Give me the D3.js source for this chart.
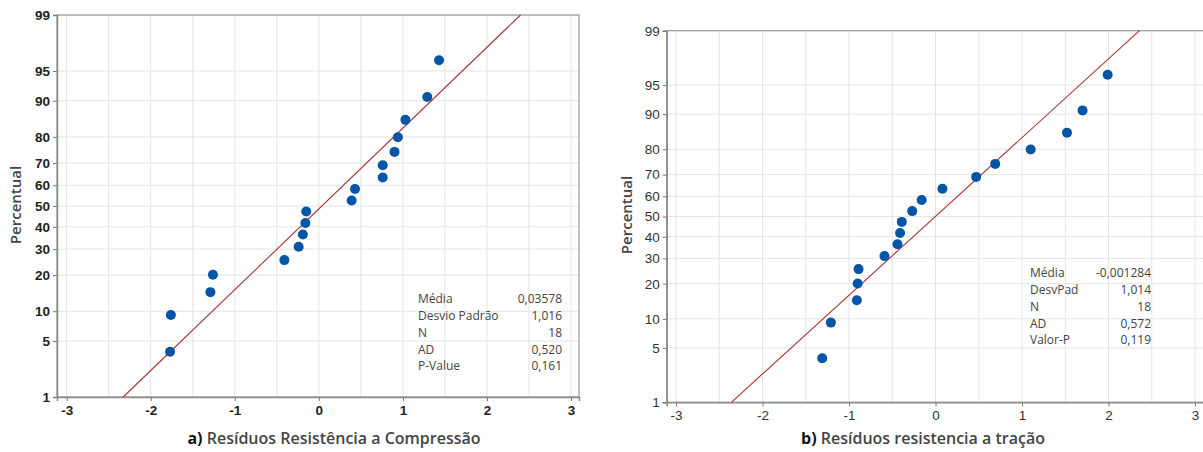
<!DOCTYPE html>
<html>
<head>
<meta charset="utf-8">
<script src="https://cdn.jsdelivr.net/npm/d3@7"></script>
<style>
  body { margin: 0; background: #fff; }
  svg { display: block; font-family: "Open Sans", sans-serif; }
</style>
</head>
<body>
<div id="c"></div>
<script>
"use strict";

// percent plotting positions (same for both panels)
const percentA = [3.8, 9.2, 14.7, 20.1, 25.5, 31.0, 36.4, 41.8, 47.3, 52.7, 58.2, 63.6, 69.0, 74.5, 79.9, 85.3, 90.8, 96.2]
const percentB = [3.8, 9.2, 14.7, 20.1, 25.5, 31.0, 36.4, 41.8, 47.3, 52.7, 58.2, 63.6, 69.0, 74.5, 79.9, 85.3, 90.8, 96.2]

const residA = [-1.77, -1.76, -1.29, -1.26, -0.41, -0.24, -0.19, -0.16, -0.15, 0.39, 0.43, 0.76, 0.76, 0.90, 0.94, 1.03, 1.29, 1.43]
const residB = [-1.31, -1.21, -0.91, -0.90, -0.89, -0.59, -0.44, -0.41, -0.39, -0.27, -0.16, 0.08, 0.47, 0.69, 1.10, 1.52, 1.70, 1.99]

const meanA = 0.03578, sdA = 1.016
const meanB = -0.001284, sdB = 1.014

const yTicks = [1, 5, 10, 20, 30, 40, 50, 60, 70, 80, 90, 95, 99]
const xTicks = [-3, -2, -1, 0, 1, 2, 3]
const xGrid = [-3, -2.5, -2, -1.5, -1, -0.5, 0, 0.5, 1, 1.5, 2, 2.5, 3]

const statsLabelsA = ["Média", "Desvio Padrão", "N", "AD", "P-Value"]
const statsValuesA = ["0,03578", "1,016", "18", "0,520", "0,161"]
const statsLabelsB = ["Média", "DesvPad", "N", "AD", "Valor-P"]
const statsValuesB = ["-0,001284", "1,014", "18", "0,572", "0,119"]

// inverse normal cdf (Acklam)
function probit(p) {
    const a = [-39.69683028665376, 220.9460984245205, -275.9285104469687, 138.3577518672690, -30.66479806614716, 2.506628277459239]
    const b = [-54.47609879822406, 161.5858368580409, -155.6989798598866, 66.80131188771972, -13.28068155288572]
    const c = [-0.007784894002430293, -0.3223964580411365, -2.400758277161838, -2.549732539343734, 4.374664141464968, 2.938163982698783]
    const d = [0.007784695709041462, 0.3224671290700398, 2.445134137142996, 3.754408661907416]
    const pl = 0.02425
    let q, r
    if (p < pl) {
        q = Math.sqrt(-2 * Math.log(p))
        return (((((c[0]*q+c[1])*q+c[2])*q+c[3])*q+c[4])*q+c[5]) / ((((d[0]*q+d[1])*q+d[2])*q+d[3])*q+1)
    }
    if (p > 1 - pl) {
        q = Math.sqrt(-2 * Math.log(1 - p))
        return -(((((c[0]*q+c[1])*q+c[2])*q+c[3])*q+c[4])*q+c[5]) / ((((d[0]*q+d[1])*q+d[2])*q+d[3])*q+1)
    }
    q = p - 0.5
    r = q * q
    return (((((a[0]*r+a[1])*r+a[2])*r+a[3])*r+a[4])*r+a[5])*q / (((((b[0]*r+b[1])*r+b[2])*r+b[3])*r+b[4])*r+1)
}

const svg = d3.select('#c').append('svg')
    .attr('width', 1203).attr('height', 452)

function drawPanel(cfg) {
    const g = svg.append('g')
    const xScale = d3.scaleLinear().domain(cfg.xDomain).range([cfg.left, cfg.right])
    const zScale = d3.scaleLinear().domain([probit(0.01), probit(0.99)]).range([cfg.bottom, cfg.top])
    const yPos = p => zScale(probit(p / 100))

    // grid
    g.append('g').selectAll('line').data(xGrid).enter().append('line')
        .attr('x1', d => xScale(d)).attr('x2', d => xScale(d))
        .attr('y1', cfg.top).attr('y2', cfg.bottom)
        .attr('stroke', '#e4e4e4').attr('stroke-width', 1)
    g.append('g').selectAll('line').data(yTicks).enter().append('line')
        .attr('x1', cfg.left).attr('x2', cfg.right)
        .attr('y1', d => yPos(d)).attr('y2', d => yPos(d))
        .attr('stroke', '#e4e4e4').attr('stroke-width', 1)

    // frame
    g.append('rect')
        .attr('x', cfg.left).attr('y', cfg.top)
        .attr('width', cfg.right - cfg.left).attr('height', cfg.bottom - cfg.top)
        .attr('fill', 'none').attr('stroke', '#9a9a9a').attr('stroke-width', 1.2)

    // axes
    const yAxis = g.append('g')
        .attr('transform', 'translate(' + cfg.left + ',0)')
        .call(d3.axisLeft(zScale)
            .tickValues(yTicks.map(p => probit(p / 100)))
            .tickFormat((d, i) => yTicks[i])
            .tickSize(4).tickPadding(3))
    const xAxis = g.append('g')
        .attr('transform', 'translate(0,' + cfg.bottom + ')')
        .call(d3.axisBottom(xScale)
            .tickValues(xTicks)
            .tickFormat(d => d)
            .tickSize(4).tickPadding(4))
    ;[yAxis, xAxis].forEach(ax => {
        ax.select('.domain').attr('stroke', '#8a8a8a').attr('stroke-width', 1.5)
        ax.selectAll('.tick line').attr('stroke', '#777')
        ax.selectAll('.tick text')
            .style('font-size', '13.5px')
            .style('font-weight', cfg.tickWeight)
            .attr('fill', cfg.tickColor)
    })

    // fitted line
    const zLo = probit(0.01), zHi = probit(0.99)
    g.append('line')
        .attr('x1', xScale(cfg.mean + cfg.sd * zLo)).attr('y1', zScale(zLo))
        .attr('x2', xScale(cfg.mean + cfg.sd * zHi)).attr('y2', zScale(zHi))
        .attr('stroke', '#a83232').attr('stroke-width', 1.1)

    // points
    g.append('g').selectAll('circle')
        .data(cfg.resid.map((v, i) => ({x: v, p: cfg.percent[i]})))
        .enter().append('circle')
            .attr('cx', d => xScale(d.x))
            .attr('cy', d => yPos(d.p))
            .attr('r', 5)
            .attr('fill', '#0455a6')

    // stats box
    cfg.statsLabels.forEach((lab, i) => {
        g.append('text')
            .attr('x', cfg.statsX).attr('y', cfg.statsY + i * 16.8)
            .attr('dominant-baseline', 'middle')
            .style('font-size', '12px').attr('fill', '#444')
            .text(lab)
        g.append('text')
            .attr('x', cfg.statsX2).attr('y', cfg.statsY + i * 16.8)
            .attr('dominant-baseline', 'middle').attr('text-anchor', 'end')
            .style('font-size', '12px').attr('fill', '#444')
            .text(cfg.statsValues[i])
    })

    // y label
    g.append('text')
        .attr('transform', 'translate(' + cfg.yLabelX + ',' + cfg.yLabelY + ') rotate(-90)')
        .attr('text-anchor', 'middle').attr('dominant-baseline', 'middle')
        .style('font-size', '15px').style('font-weight', 600).attr('fill', '#444')
        .text('Percentual')

    // x title
    const t = g.append('text')
        .attr('x', cfg.titleX).attr('y', cfg.titleY)
        .attr('text-anchor', 'middle').attr('dominant-baseline', 'middle')
        .style('font-size', '16px').style('font-weight', 600).attr('fill', '#444')
    t.append('tspan').style('font-weight', 700).attr('fill', '#111').text(cfg.letter)
    t.append('tspan').attr('fill', '#444').text(' ' + cfg.title)
}

drawPanel({
    left: 57, right: 579, top: 15, bottom: 397,
    xDomain: [-3.115, 3.095],
    percent: percentA, resid: residA, mean: meanA, sd: sdA,
    statsLabels: statsLabelsA, statsValues: statsValuesA,
    statsX: 418, statsX2: 562, statsY: 300,
    yLabelX: 17, yLabelY: 205,
    titleX: 334, titleY: 440,
    letter: 'a)', title: 'Resíduos Resistência a Compressão',
    tickWeight: 600, tickColor: '#222'
})

drawPanel({
    left: 666.7, right: 1206, top: 30.7, bottom: 402.3,
    xDomain: [-3.108, 3.127],
    percent: percentB, resid: residB, mean: meanB, sd: sdB,
    statsLabels: statsLabelsB, statsValues: statsValuesB,
    statsX: 1030, statsX2: 1151, statsY: 274,
    yLabelX: 628, yLabelY: 215,
    titleX: 923, titleY: 440,
    letter: 'b)', title: 'Resíduos resistencia a tração',
    tickWeight: 400, tickColor: '#333'
})
</script>
</body>
</html>
